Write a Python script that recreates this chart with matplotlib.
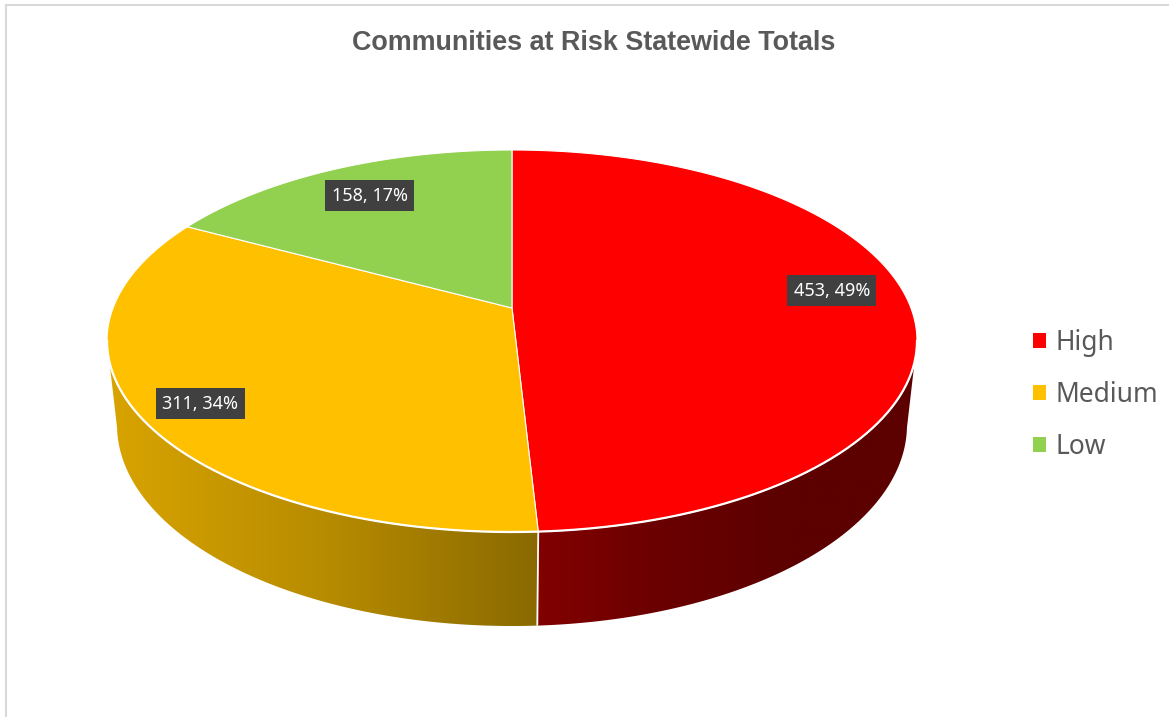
#!/usr/bin/env python3
# -*- coding: utf-8 -*-

import numpy as np
import matplotlib
matplotlib.use("Agg")
import matplotlib.pyplot as plt
from matplotlib.colors import LinearSegmentedColormap
from matplotlib.patches import Patch, Polygon

# data
categories = ["High", "Medium", "Low"]
counts = [453, 311, 158]
title = "Communities at Risk Statewide Totals"

# colours
top_colors = ["#FF0000", "#FFC000", "#92D050"]
wall_colors = {
    "High": ["#820000", "#6A0000", "#5C0000", "#5C0000"],
    "Medium": ["#D8A400", "#B88C00", "#8A6A00"],
}
text_grey = "#595959"
box_grey = "#404040"
frame_grey = "#D9D9D9"

# pie geometry, in image pixels: perspective view of a flat disc
CX = 512
TOP = dict(y0=308, d=398.9, c=185.3, k=0.1728)
BOTTOM = dict(y0=392.8, d=389.9, c=195.9, k=0.16)
# label anchor: radius on the disc and a turn in degrees from the slice middle
label_spots = [(0.82, -5), (0.86, -1), (0.786, 0.4)]


def project(phi, r, disc):
    # phi is clockwise from 12 o'clock, r is 0..1 on the disc
    u = r * np.sin(np.radians(phi))
    v = r * np.cos(np.radians(phi))
    w = 1 + disc["k"] * v
    return CX + disc["d"] * u / w, disc["y0"] - disc["c"] * v / w


def arc(a, b, disc):
    phi = np.linspace(a, b, 200)
    return project(phi, 1.0, disc)


fig = plt.figure(figsize=(11.69, 7.17), dpi=100)
ax = fig.add_axes([0, 0, 1, 1])

# slice angles
shares = np.array(counts) / sum(counts)
edges = np.concatenate([[0], np.cumsum(shares) * 360])

# side wall, only the front part is seen
turn = np.degrees(np.arcsin(TOP["k"]))
for i, name in enumerate(categories):
    a = max(edges[i], 90 + turn)
    b = min(edges[i + 1], 270 - turn)
    if a >= b or name not in wall_colors:
        continue
    tx, ty = arc(a, b, TOP)
    bx, by = arc(a, b, BOTTOM)
    outline = np.column_stack([np.r_[tx, bx[::-1]], np.r_[ty, by[::-1]]])
    cmap = LinearSegmentedColormap.from_list(name, wall_colors[name])
    left, right = outline[:, 0].min(), outline[:, 0].max()
    shade = np.linspace(0, 1, 256)[None, :]
    im = ax.imshow(shade, cmap=cmap, extent=(left, right, outline[:, 1].max(), outline[:, 1].min()),
                   aspect="auto", zorder=1, vmin=0, vmax=1)
    clip = Polygon(outline, closed=True, transform=ax.transData, fc="none", ec="none")
    ax.add_patch(clip)
    im.set_clip_path(clip)

# white seam on the wall
sx = [project(edges[1], 1.0, TOP)[0], project(edges[1], 1.0, BOTTOM)[0]]
sy = [project(edges[1], 1.0, TOP)[1], project(edges[1], 1.0, BOTTOM)[1]]
ax.plot(sx, sy, color="white", lw=1.3, zorder=2, solid_capstyle="butt")

# top of the pie
cx0, cy0 = project(0, 0.0, TOP)
for i in range(len(counts)):
    x, y = arc(edges[i], edges[i + 1], TOP)
    ax.fill(np.r_[cx0, x], np.r_[cy0, y], color=top_colors[i], ec="white", lw=0.8,
            joinstyle="round", zorder=3)

# white rim along the front
fx, fy = arc(90 + turn, 270 - turn, TOP)
ax.plot(fx, fy, color="white", lw=1.6, zorder=4)

# data labels
for i, v in enumerate(counts):
    r, extra = label_spots[i]
    lx, ly = project((edges[i] + edges[i + 1]) / 2 + extra, r, TOP)
    ax.text(lx, ly, "%d, %d%%" % (v, round(shares[i] * 100)), color="white", fontsize=13,
            family="Noto Sans", ha="center", va="center", zorder=5,
            bbox=dict(boxstyle="square,pad=0.36", fc=box_grey, ec="none"))

# frame
ax.plot([6, 6], [5, 717], color=frame_grey, lw=1.5, zorder=0)
ax.plot([6, 1169], [5, 5], color=frame_grey, lw=1.5, zorder=0)

ax.text(593.5, 43.5, title, color=text_grey, fontsize=19.4, fontweight="bold",
        family="Liberation Sans", ha="center", va="center")

handles = [Patch(fc=c, ec="none") for c in top_colors]
ax.legend(handles, categories, loc="center left", bbox_to_anchor=(1033, 395),
          bbox_transform=ax.transData, frameon=False, labelcolor=text_grey,
          handlelength=0.49, handleheight=0.49, handletextpad=0.35, labelspacing=0.9,
          borderpad=0, borderaxespad=0, prop=dict(family="Noto Sans", size=19))

ax.set_xlim(0, 1169)
ax.set_ylim(717, 0)
ax.axis("off")

fig.savefig("out.png", dpi=100, facecolor="white")
